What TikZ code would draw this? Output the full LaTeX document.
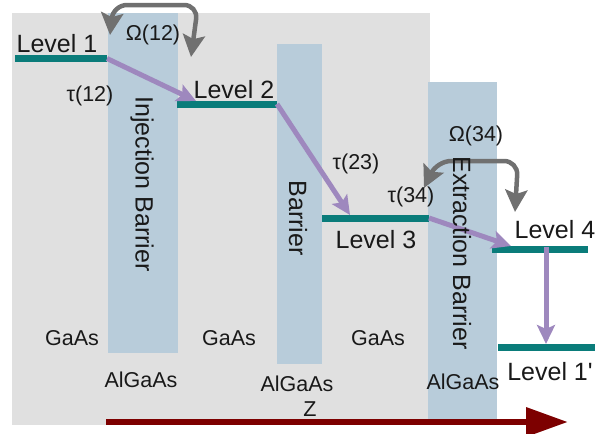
\documentclass[tikz,border=0pt]{standalone}
\usepackage{fontspec}
\setmainfont{Liberation Sans}
\usetikzlibrary{arrows.meta}
\definecolor{bggray}{RGB}{224,224,224}
\definecolor{barrierblue}{RGB}{184,204,218}
\definecolor{levelteal}{RGB}{10,124,122}
\definecolor{transpurple}{RGB}{158,136,190}
\definecolor{coupgray}{RGB}{112,112,112}
\definecolor{axisred}{RGB}{125,0,0}
\definecolor{ink}{RGB}{25,25,25}
\begin{document}
\begin{tikzpicture}[x=1pt,y=-1pt,
  region/.style={fill=bggray,draw=none},
  barrierbox/.style={fill=barrierblue,draw=none},
  level/.style={draw=levelteal,line width=7pt},
  transition/.style={draw=transpurple,line width=5pt,
    -{Stealth[length=19pt,width=18pt,inset=4pt]}},
  coupling/.style={draw=coupgray,line width=4.5pt,rounded corners=14pt,
    {Stealth[length=22pt,width=22pt,inset=4pt]}-{Stealth[length=22pt,width=22pt,inset=4pt]}},
  zaxis/.style={draw=axisred,line width=6.5pt,-{Triangle[length=42pt,width=28pt]}},
  big/.style={font=\fontsize{25}{28}\selectfont,text=ink,inner sep=0pt},
  small/.style={font=\fontsize{21.5}{25}\selectfont,text=ink,inner sep=0pt},
]
\useasboundingbox (0,0) rectangle (598,434);

% GaAs region and AlGaAs barriers
\fill[region] (12,13) rectangle (430,425);
\fill[barrierbox] (108,13) rectangle (178,353);
\fill[barrierbox] (277,44) rectangle (322,364);
\fill[barrierbox] (428,82) rectangle (497,425);

% level end points
\coordinate (l1a) at (15,58.5);   \coordinate (l1b) at (107,58.5);
\coordinate (l2a) at (177,104);   \coordinate (l2b) at (277,104);
\coordinate (l3a) at (322,218);   \coordinate (l3b) at (429,218);
\coordinate (l4a) at (492,249);   \coordinate (l4b) at (588,249);
\coordinate (l5a) at (498,347);   \coordinate (l5b) at (595,347);
\coordinate (l4m) at (546,247);

% arrival points of the transitions
\coordinate (t12) at (196,101);
\coordinate (t23) at (350,215);
\coordinate (t34) at (511,246);
\coordinate (t41) at (546,344);

% coupling ends
\coordinate (o12l) at (110,35);  \coordinate (o12r) at (191,57);
\coordinate (o34l) at (424,188); \coordinate (o34r) at (515,212);

% energy levels
\draw[level] (l1a) -- (l1b);
\draw[level] (l2a) -- (l2b);
\draw[level] (l3a) -- (l3b);
\draw[level] (l4a) -- (l4b);
\draw[level] (l5a) -- (l5b);

% transitions
\draw[transition] (l1b) -- (t12);
\draw[transition] (l2b) -- (t23);
\draw[transition] (l3b) -- (t34);
\draw[transition] (l4m) -- (t41);

% tunnel couplings
\draw[coupling] (o12l) -- (113,5) -- (198,5) -- (o12r);
\draw[coupling] (o34l) -- (437,161) -- (518,161) -- (o34r);

% growth axis
\coordinate (zs) at (106,422);
\coordinate (ze) at (568,422);
\draw[zaxis] (zs) -- (ze);

% labels
\node[big,anchor=base] (lab1) at (57,52) {Level 1};
\node[big,anchor=base] (lab2) at (234,98) {Level 2};
\node[big,anchor=base] (lab3) at (376,248) {Level 3};
\node[big,anchor=base] (lab4) at (555,238) {Level 4};
\node[big,anchor=base] (lab5) at (550,380) {Level 1\textquotesingle};

\node[small,anchor=base] (om12) at (153,40) {Ω(12)};
\node[small,anchor=base] (om34) at (476,141) {Ω(34)};
\node[small,anchor=base] (ta12) at (90,101) {τ(12)};
\node[small,anchor=base] (ta23) at (356,169) {τ(23)};
\node[small,anchor=base] (ta34) at (411,202) {τ(34)};

\node[big,rotate=-90] (ninj) at (142,184) {Injection Barrier};
\node[big,rotate=-90] (nbar) at (298,218) {Barrier};
\node[big,rotate=-90] (next) at (462,253) {Extraction Barrier};

\node[small,anchor=base] (g1) at (72,345) {GaAs};
\node[small,anchor=base] (g2) at (229,345) {GaAs};
\node[small,anchor=base] (g3) at (378,345) {GaAs};
\node[small,anchor=base] (a1) at (141,387) {AlGaAs};
\node[small,anchor=base] (a2) at (297,391) {AlGaAs};
\node[small,anchor=base] (a3) at (463,389) {AlGaAs};
\node[small,anchor=base] (zl) at (310,416) {Z};
\end{tikzpicture}
\end{document}
